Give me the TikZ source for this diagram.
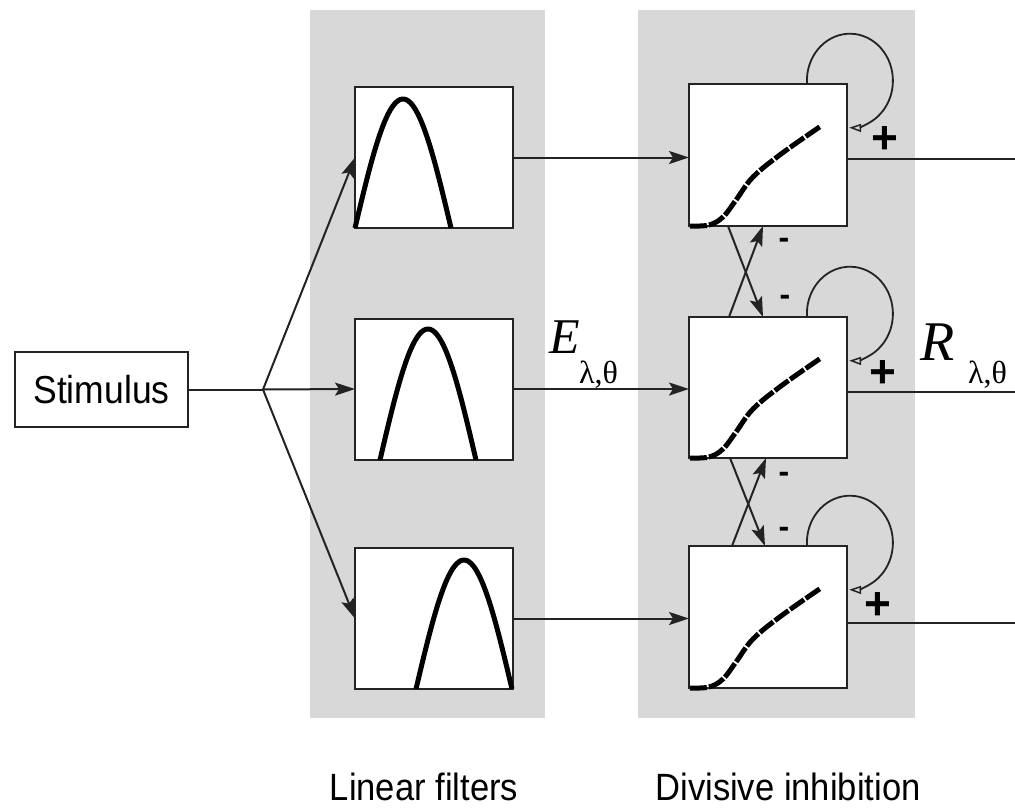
\documentclass[tikz,border=0pt]{standalone}
\usepackage{fontspec}
\setmainfont{Liberation Sans}
\newfontfamily\labfont[FakeStretch=0.91]{Liberation Sans}
\newfontfamily\signfont{Liberation Sans}
\newfontfamily\serifface{Liberation Serif}
\usetikzlibrary{arrows.meta,calc}
\definecolor{panel}{RGB}{216,216,216}
\definecolor{ink}{RGB}{35,35,35}
\tikzset{
  box/.style={draw=ink, fill=white, line width=2pt, inner sep=0pt, outer sep=0pt},
  conn/.style={draw=ink, line width=2pt},
  arr/.style={conn, -{Stealth[length=20pt,width=13pt,inset=4pt]}},
  loopar/.style={draw=ink, line width=1.8pt, -{Triangle[open,length=12pt,width=8pt,line width=1.5pt]}},
  bump/.style={draw=black, line width=5pt},
  sig/.style={draw=black, line width=5pt, dash pattern=on 17pt off 2pt},
  lab/.style={font=\labfont\fontsize{38}{40}\selectfont, inner sep=0pt, anchor=base},
  plus/.style={font=\signfont\bfseries\fontsize{46}{46}\selectfont, inner sep=0pt},
  minus/.style={font=\signfont\bfseries\fontsize{32}{32}\selectfont, inner sep=0pt}
}
\begin{document}
\begin{tikzpicture}[x=1pt,y=-1pt]
\useasboundingbox (0,0) rectangle (1015,809);
\fill[white] (0,0) rectangle (1015,809);
% panels
\fill[panel] (310,10) rectangle (545,718);
\fill[panel] (638,10) rectangle (915,718);

% stimulus
\node[box, minimum width=173pt, minimum height=75pt, font=\labfont\fontsize{39}{40}\selectfont] (stim) at (101.5,389.5) {Stimulus};
\coordinate (branch) at (263,389.5);

% filter boxes
\node[box, minimum width=158pt, minimum height=141pt] (f1) at (434,157.5) {};
\node[box, minimum width=158pt, minimum height=141pt] (f2) at (434,389) {};
\node[box, minimum width=158pt, minimum height=141pt] (f3) at (434,618.5) {};

% divisive boxes
\node[box, minimum width=158pt, minimum height=142pt] (d1) at (768,155) {};
\node[box, minimum width=158pt, minimum height=141pt] (d2) at (768,387.5) {};
\node[box, minimum width=158pt, minimum height=142pt] (d3) at (768,617) {};

% bumps
\draw[bump] plot[domain=0:1, samples=50] ({355+96*\x},{228-129*sin(180*\x)});
\draw[bump] plot[domain=0:1, samples=50] ({380+96*\x},{460-131*sin(180*\x)});
\draw[bump] plot[domain=0:1, samples=50] ({416+96*\x},{689-129*sin(180*\x)});

% sigmoids
\foreach \b in {d1,d2,d3}{
  \draw[sig, shift={(\b.south west)}] plot[smooth, tension=0.6] coordinates {(1,0) (20,-1) (34,-9) (47,-26) (64,-49) (92,-72) (132,-100)};
}

% stimulus to filters
\draw[conn] (stim.east) -- (branch);
\draw[arr] (branch) -- (f1.west);
\draw[arr] (branch) -- (f2.west);
\draw[arr] (branch) -- (f3.west);

% filters to divisive
\draw[arr] (f1.east) -- (f1.east -| d1.west);
\draw[arr] (f2.east) -- (f2.east -| d2.west);
\draw[arr] (f3.east) -- (f3.east -| d3.west);

% outputs
\coordinate (o1) at (1015,159);
\coordinate (o2) at (1015,392);
\coordinate (o3) at (1015,623);
\draw[conn] (o1 -| d1.east) -- (o1);
\draw[conn] (o2 -| d2.east) -- (o2);
\draw[conn] (o3 -| d3.east) -- (o3);

% cross inhibition
\draw[arr] ($(d1.south west)+(39,0)$) -- ($(d2.north west)+(74,0)$);
\draw[arr] ($(d2.north west)+(40,0)$) -- ($(d1.south west)+(74,0)$);
\draw[arr] ($(d2.south west)+(41,0)$) -- ($(d3.north west)+(76,0)$);
\draw[arr] ($(d3.north west)+(43,0)$) -- ($(d2.south west)+(77,0)$);

% self loops
\foreach \b in {d1,d2,d3}{
  \draw[loopar] ($(\b.north west)+(118,0)$) arc[start angle=176, end angle=451, x radius=43, y radius=47];
}

% signs
\node[plus] (p1) at (885,140) {+};
\node[plus] (p2) at (883,374) {+};
\node[plus] (p3) at (878,606) {+};
\node[minus] (m1) at (784,243) {-};
\node[minus] (m2) at (785,300) {-};
\node[minus] (m3) at (784,477) {-};
\node[minus] (m4) at (784,532) {-};

% variable labels
\node[anchor=base west, inner sep=0pt, font=\serifface\itshape\fontsize{50}{50}\selectfont] (E) at (549,353) {E};
\node[anchor=base west, inner sep=0pt, font=\serifface\fontsize{32}{32}\selectfont] (Es) at (579,383) {λ,θ};
\node[anchor=base west, inner sep=0pt, font=\serifface\itshape\fontsize{56}{56}\selectfont] (R) at (920,360) {R};
\node[anchor=base west, inner sep=0pt, font=\serifface\fontsize{32}{32}\selectfont] (Rs) at (968,383) {λ,θ};

% panel captions
\node[lab] (c1) at (424,800) {Linear filters};
\node[lab] (c2) at (788,800) {Divisive inhibition};
\end{tikzpicture}
\end{document}
